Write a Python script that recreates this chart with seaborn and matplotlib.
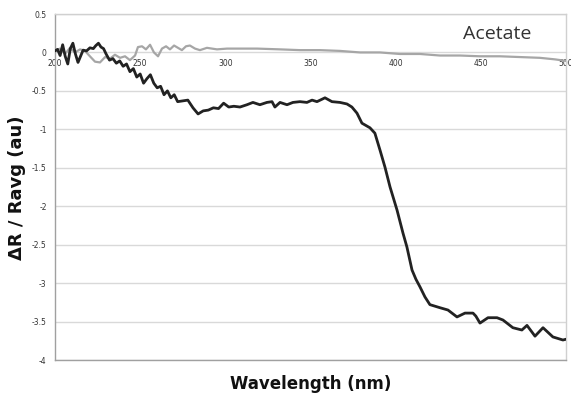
import numpy as np
import pandas as pd
import matplotlib
matplotlib.use("Agg")
import matplotlib.pyplot as plt
import seaborn as sns

# ---- data ----
wl_main = [200.0, 201.5, 203.0, 204.5, 206.0, 207.5, 209.0, 210.5, 212.0, 213.5,
           215.0, 216.5, 218.5, 220.5, 222.5, 224.0, 225.5, 227.0, 228.5, 230.0,
           232.0, 234.0, 236.0, 238.0, 240.0, 242.0, 244.0, 246.0, 248.0, 250.0,
           252.0, 254.0, 256.0, 258.0, 260.0, 262.0, 264.0, 266.0, 268.0, 270.0,
           272.0, 275.0, 278.0, 281.0, 284.0, 287.0, 290.0, 293.0, 296.0, 299.0,
           302.0, 305.0, 308.6, 312.7, 316.2, 320.3, 324.4, 327.4, 329.1, 332.1,
           336.2, 339.7, 343.8, 347.9, 350.9, 353.8, 358.5, 362.6, 367.3, 371.4,
           374.3, 377.3, 380.2, 384.9, 387.8, 390.8, 393.7, 396.7, 400.8, 404.3,
           406.6, 409.6, 411.9, 414.3, 417.2, 420.1, 426.0, 430.7, 436.0, 440.7,
           445.4, 447.1, 449.5, 454.2, 459.5, 463.0, 468.8, 474.1, 477.1, 481.8,
           486.5, 492.3, 498.2, 500.0]
dr_main = [0.02, 0.04, -0.04, 0.10, -0.05, -0.15, 0.05, 0.12, -0.02, -0.13,
           -0.05, 0.03, 0.02, 0.06, 0.05, 0.09, 0.12, 0.07, 0.05, -0.02,
           -0.10, -0.08, -0.14, -0.11, -0.18, -0.15, -0.25, -0.21, -0.32, -0.28,
           -0.40, -0.34, -0.29, -0.40, -0.46, -0.44, -0.55, -0.50, -0.59, -0.55,
           -0.64, -0.63, -0.62, -0.72, -0.80, -0.76, -0.75, -0.72, -0.73, -0.66,
           -0.71, -0.70, -0.71, -0.68, -0.65, -0.68, -0.65, -0.64, -0.71, -0.65,
           -0.68, -0.65, -0.64, -0.65, -0.62, -0.64, -0.59, -0.64, -0.65, -0.67,
           -0.71, -0.79, -0.92, -0.98, -1.05, -1.27, -1.49, -1.75, -2.05, -2.35,
           -2.53, -2.83, -2.95, -3.05, -3.18, -3.28, -3.32, -3.35, -3.44, -3.39,
           -3.39, -3.43, -3.52, -3.45, -3.45, -3.48, -3.58, -3.61, -3.55, -3.69,
           -3.58, -3.70, -3.74, -3.73]

wl_acetate = [200.0, 202.9, 205.9, 208.8, 211.7, 214.7, 217.6, 220.5, 223.5, 226.4,
              229.4, 232.3, 235.2, 238.2, 241.1, 244.0, 247.0, 248.7, 251.1, 253.4,
              255.8, 258.1, 260.5, 262.8, 265.2, 267.5, 269.9, 272.2, 274.5, 276.9,
              279.2, 282.2, 285.1, 289.2, 295.1, 301.0, 308.6, 318.6, 332.1, 343.8,
              355.6, 367.3, 379.1, 390.8, 402.5, 414.3, 426.0, 437.8, 449.5, 461.2,
              473.0, 484.7, 493.5, 500.0]
dr_acetate = [0.02, 0.05, -0.02, 0.06, 0.00, 0.04, 0.02, -0.05, -0.12, -0.13,
              -0.06, -0.08, -0.03, -0.07, -0.05, -0.10, -0.04, 0.07, 0.08, 0.04,
              0.10, 0.00, -0.05, 0.05, 0.08, 0.04, 0.09, 0.06, 0.03, 0.08,
              0.09, 0.05, 0.03, 0.06, 0.04, 0.05, 0.05, 0.05, 0.04, 0.03,
              0.03, 0.02, 0.00, 0.00, -0.02, -0.02, -0.04, -0.04, -0.05, -0.05,
              -0.06, -0.07, -0.09, -0.11]

x_ticks = [200, 250, 300, 350, 400, 450, 500]
y_ticks = [0.5, 0, -0.5, -1, -1.5, -2, -2.5, -3, -3.5, -4]
y_ticklabels = ["0.5", "0", "-0.5", "-1", "-1.5", "-2", "-2.5", "-3", "-3.5", "-4"]

# ---- plot ----
sns.set_style("white")
plt.rcParams['font.family'] = ['DejaVu Sans']

fig = plt.figure(figsize=(5.71, 3.95), dpi=100)
ax = fig.add_axes([55/571, 1 - 360/395, 511/571, 346/395])

df_a = pd.DataFrame({"wl": wl_acetate, "dr": dr_acetate})
df_m = pd.DataFrame({"wl": wl_main, "dr": dr_main})
sns.lineplot(data=df_a, x="wl", y="dr", ax=ax, color="#a6a6a6", lw=1.6,
             sort=False, estimator=None, zorder=3)
sns.lineplot(data=df_m, x="wl", y="dr", ax=ax, color="#222222", lw=2.0,
             sort=False, estimator=None, zorder=4)

ax.set_xlim(200, 500)
ax.set_ylim(-4, 0.5)
ax.set_yticks(y_ticks)
ax.set_yticklabels(y_ticklabels)
ax.tick_params(axis='y', length=0, pad=6, labelsize=5.5, labelcolor="#333333")
ax.set_xticks(x_ticks)
ax.tick_params(axis='x', length=0, labelbottom=False)
ax.yaxis.grid(True, color="#d9d9d9", lw=1.0)
ax.xaxis.grid(False)
ax.set_xlabel("")
ax.set_ylabel("")

for side in ["left", "bottom"]:
    ax.spines[side].set_color("#a0a0a0")
    ax.spines[side].set_linewidth(1.0)
for side in ["top", "right"]:
    ax.spines[side].set_color("#d0d0d0")
    ax.spines[side].set_linewidth(1.0)

# x tick labels positioned just below the y=0 line
frac0 = (0 - (-4)) / 4.5
sec = ax.secondary_xaxis(frac0)
sec.set_xticks(x_ticks)
sec.set_xticklabels([str(t) for t in x_ticks])
sec.tick_params(axis='x', length=0, pad=5, labelsize=5.5, labelcolor="#333333",
                labelbottom=True, labeltop=False, bottom=False, top=False)
sec.xaxis.set_ticks_position('bottom')
sec.xaxis.set_label_position('bottom')
for s in sec.spines.values():
    s.set_visible(False)

fig.text(311/571, 1 - 384/395, "Wavelength (nm)", fontsize=12, fontweight="bold",
         color="#111111", ha="center", va="center")
fig.text(17/571, 1 - 188/395, "ΔR / Ravg (au)", fontsize=13, fontweight="bold",
         color="#111111", ha="center", va="center", rotation=90)

ax.text(0.865, 0.942, "Acetate", transform=ax.transAxes, ha="center", va="center",
        fontsize=14, family=["Open Sans", "DejaVu Sans"], color="#333333")

fig.savefig("out.png", dpi=100)
